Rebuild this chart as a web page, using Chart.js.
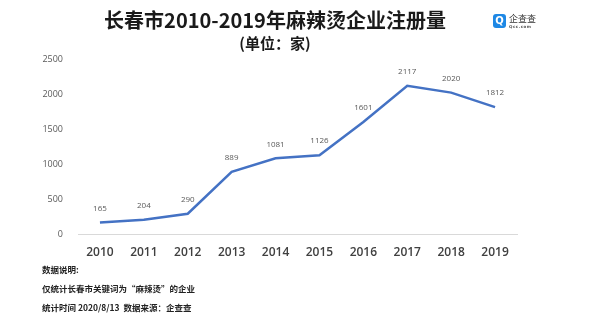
<!DOCTYPE html>
<html>
<head>
<meta charset="utf-8">
<script src="https://cdn.jsdelivr.net/npm/chart.js@4.4.1/dist/chart.umd.min.js"></script>
<style>
  body { margin: 0; background: #fff; font-family: "Noto Sans CJK SC", sans-serif; }
  #wrap { position: relative; width: 613px; height: 329px; overflow: hidden; }
  #title { position: absolute; left: 0; width: 550px; top: 7px; text-align: center;
           font-size: 20px; font-weight: bold; color: #1a1a1a; line-height: 26px; }
  #sub { position: absolute; left: 0; width: 550px; top: 33px; text-align: center;
         font-size: 15px; font-weight: bold; color: #1a1a1a; line-height: 20px; }
  #logo { position: absolute; left: 493px; top: 13px; }
  #logo .ic { position: absolute; left: 0; top: 1px; width: 13px; height: 14px; background: #1e88e5;
              border-radius: 3px; color: #fff; font: bold 10px/14px "DejaVu Sans", sans-serif; text-align: center; }
  #logo .nm { position: absolute; left: 16px; top: 0; font-size: 9px; color: #333; white-space: nowrap; line-height: 11px; }
  #logo .url { position: absolute; left: 16px; top: 11px; font: bold 4px/5px "DejaVu Sans", sans-serif; color: #555; letter-spacing: 0.5px; }
  .note { position: absolute; left: 42px; font-size: 8.5px; color: #222; white-space: nowrap; font-weight: bold; }
  canvas { position: absolute; left: 0; top: 0; }
</style>
</head>
<body>
<div id="wrap">
  <canvas id="chart" width="613" height="329"></canvas>
  <div id="title">长春市2010-2019年麻辣烫企业注册量</div>
  <div id="sub">(单位：家)</div>
  <div id="logo"><div class="ic">Q</div><div class="nm">企查查</div><div class="url">Qcc.com</div></div>
  <div class="note" style="top:263px">数据说明:</div>
  <div class="note" style="top:282px">仅统计长春市关键词为“麻辣烫”的企业</div>
  <div class="note" style="top:301px">统计时间 2020/8/13&nbsp; 数据来源：企查查</div>
</div>
<script>
// registrations per year
var years = ['2010', '2011', '2012', '2013', '2014', '2015', '2016', '2017', '2018', '2019'];
var counts = [165, 204, 290, 889, 1081, 1126, 1601, 2117, 2020, 1812];
var yTicks = [0, 500, 1000, 1500, 2000, 2500];

// numbers above each point
var valueLabels = {
  id: 'valueLabels',
  afterDatasetsDraw: function(chart) {
    var ctx = chart.ctx;
    var meta = chart.getDatasetMeta(0);
    ctx.save();
    ctx.font = '8px "Open Sans", sans-serif';
    ctx.fillStyle = '#595959';
    ctx.textAlign = 'center';
    ctx.textBaseline = 'middle';
    meta.data.forEach(function(pt, i) {
      ctx.fillText(counts[i], pt.x, pt.y - 14);
    });
    ctx.restore();
  }
};

new Chart(document.getElementById('chart').getContext('2d'), {
  type: 'line',
  data: {
    labels: years,
    datasets: [{
      data: counts,
      borderColor: '#4472C4',
      borderWidth: 2.5,
      pointRadius: 0,
      tension: 0,
      fill: false
    }]
  },
  options: {
    responsive: false,
    animation: false,
    layout: { padding: { top: 59, bottom: 69, left: 0, right: 96 } },
    plugins: { legend: { display: false }, tooltip: { enabled: false } },
    scales: {
      x: {
        offset: true,
        grid: { display: false },
        border: { display: true, color: '#d9d9d9', width: 1 },
        ticks: { color: '#404040', padding: 3, maxRotation: 0,
                 font: { size: 12, weight: '600', family: '"Open Sans", sans-serif' } },
        afterFit: function(s) { s.height = 26; }
      },
      y: {
        min: 0,
        max: 2500,
        afterBuildTicks: function(s) { s.ticks = yTicks.map(function(v) { return { value: v }; }); },
        grid: { display: false },
        border: { display: false },
        ticks: { color: '#595959', padding: 7, font: { size: 9, family: '"Open Sans", sans-serif' },
                 callback: function(v) { return String(v); } },
        afterFit: function(s) { s.width = 78; }
      }
    }
  },
  plugins: [valueLabels]
});
</script>
</body>
</html>
